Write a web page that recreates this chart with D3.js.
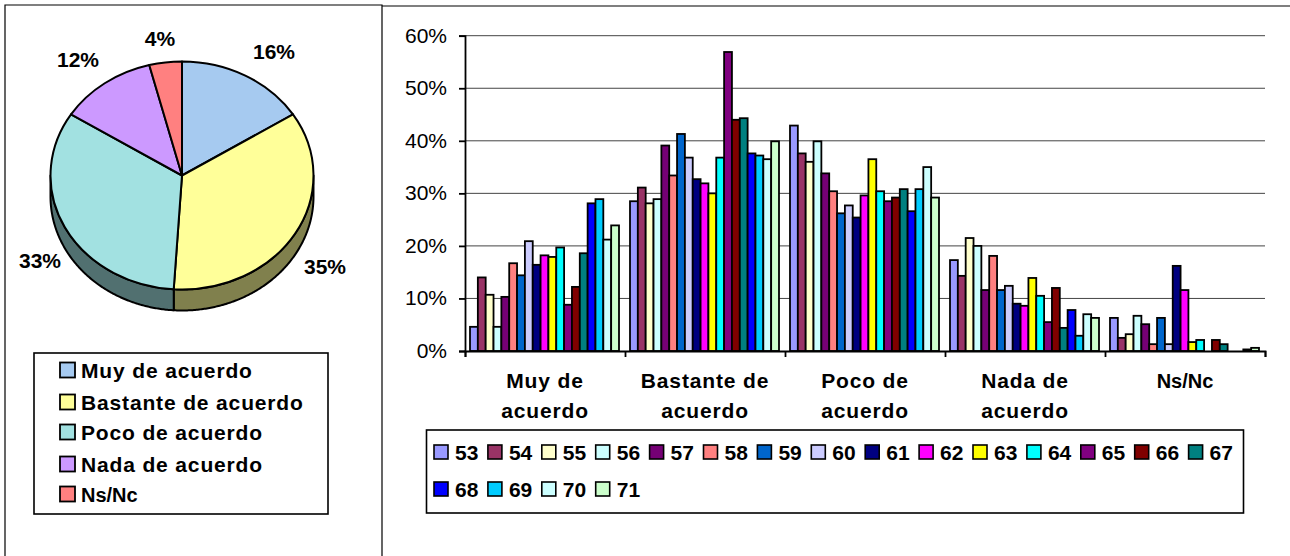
<!DOCTYPE html>
<html><head><meta charset="utf-8">
<script src="https://cdn.jsdelivr.net/npm/d3@7/dist/d3.min.js"></script>
<style>
html,body{margin:0;padding:0;background:#fff;overflow:hidden}
svg{display:block}
text{font-family:"Liberation Sans",Arial,sans-serif;fill:#000}
</style></head><body>
<svg id="c" width="1290" height="556"></svg>
<script>
// ---- data ----
const pieLabels = ["Muy de acuerdo","Bastante de acuerdo","Poco de acuerdo","Nada de acuerdo","Ns/Nc"];
const pieValues = [16,35,33,12,4];
const pieColors = ["#A6CAF0","#FFFF99","#A2E1E1","#CC99FF","#FF8080"];
const pieWallColors = ["#53657A","#80804D","#517070","#664D80","#804040"];
const categoryLines = [["Muy de","acuerdo"],["Bastante de","acuerdo"],["Poco de","acuerdo"],["Nada de","acuerdo"],["Ns/Nc"]];
const seriesNames = ["53","54","55","56","57","58","59","60","61","62","63","64","65","66","67","68","69","70","71"];
const seriesColors = ["#9999FF","#993366","#FFFFCC","#CCFFFF","#750075","#FF8080","#0066CC","#CCCCFF","#000080","#FF00FF","#FFFF00","#00FFFF","#800080","#800000","#008080","#0000FF","#00CCFF","#CCFFFF","#CCFFCC"];
const muyDeAcuerdo   = [4.6,14.0,10.7,4.6,10.3,16.7,14.4,20.9,16.4,18.2,17.9,19.7,8.8,12.2,18.6,28.1,28.9,21.2,23.9];
const bastante       = [28.5,31.1,28.1,28.9,39.1,33.4,41.3,36.8,32.7,31.9,30.0,36.8,56.9,44.0,44.3,37.6,37.2,36.5,39.9];
const poco           = [42.9,37.6,36.0,39.9,33.8,30.4,26.2,27.7,25.4,29.6,36.5,30.4,28.5,29.2,30.8,26.6,30.8,35.0,29.2];
const nada           = [17.3,14.3,21.5,20.0,11.6,18.1,11.6,12.4,9.0,8.6,13.9,10.5,5.5,12.0,4.4,7.8,2.9,7.0,6.3];
const nsNc           = [6.3,2.5,3.2,6.7,5.1,1.3,6.3,1.3,16.2,11.6,1.7,2.1,0,2.1,1.3,0,0,0.3,0.6];
const barValues = [muyDeAcuerdo,bastante,poco,nada,nsNc];
const yTicks = [0,10,20,30,40,50,60];

const svg = d3.select("#c");
const spaced = t => t==="Ns/Nc" ? 0 : 0.85;

// frames
svg.append("path").attr("d","M5,556V5H382V556").attr("fill","none").attr("stroke","#000").attr("stroke-width",1.2);
svg.append("line").attr("x1",382).attr("x2",1290).attr("y1",6).attr("y2",6).attr("stroke","#000").attr("stroke-width",1.2);

// ---- pie ----
const cx=182, cy=175.5, rx=131.5, ry=114, depth=21;
const pieArcs = d3.pie().sort(null)(pieValues);
const pt = (a,dy=0)=>[cx+rx*Math.sin(a), cy+ry*-Math.cos(a)+dy];
const line = d3.line();
const pieG = svg.append("g");
pieArcs.forEach((s,i)=>{
  const a0=Math.max(s.startAngle,Math.PI/2), a1=Math.min(s.endAngle,Math.PI*1.5);
  if(a1<=a0) return;
  const as=d3.range(a0,a1,0.01).concat([a1]);
  const pts=as.map(a=>pt(a)).concat(as.slice().reverse().map(a=>pt(a,depth)));
  pieG.append("path").attr("d",line(pts)+"Z").attr("fill",pieWallColors[i]).attr("stroke","#000").attr("stroke-width",2).attr("stroke-linejoin","round");
});
const unitArc = d3.arc().innerRadius(0).outerRadius(1);
pieG.selectAll("path.s").data(pieArcs).join("path").attr("class","s")
  .attr("transform",`translate(${cx},${cy}) scale(${rx},${ry})`)
  .attr("d",unitArc).attr("fill",(d,i)=>pieColors[i])
  .attr("stroke","#000").attr("stroke-width",2).attr("vector-effect","non-scaling-stroke").attr("stroke-linejoin","round");

const pieLabelPos = [[274,59],[325,274],[40,268],[78,67],[160,46]];
svg.append("g").selectAll("text").data(pieValues).join("text")
  .attr("x",(d,i)=>pieLabelPos[i][0]).attr("y",(d,i)=>pieLabelPos[i][1])
  .attr("text-anchor","middle").attr("font-size",21).attr("font-weight","bold").text(d=>d+"%");

// pie legend
svg.append("rect").attr("x",34).attr("y",353).attr("width",294).attr("height",161).attr("fill","#fff").attr("stroke","#000").attr("stroke-width",1.6);
const pieLegY = [370,402,432,464,494];
const pl = svg.append("g").selectAll("g").data(pieLabels).join("g").attr("transform",(d,i)=>`translate(60,${pieLegY[i]})`);
pl.append("rect").attr("x",0).attr("y",-7.5).attr("width",15).attr("height",15).attr("fill",(d,i)=>pieColors[i]).attr("stroke","#000").attr("stroke-width",1.8);
pl.append("text").attr("x",21).attr("y",7.5).attr("font-size",d=>d==="Ns/Nc"?20:21).attr("letter-spacing",spaced).attr("font-weight","bold").text(d=>d);

// ---- bars ----
const y = d3.scaleLinear().domain([0,60]).range([351,35.7]);
const xc = d3.scaleBand().domain(d3.range(categoryLines.length)).range([465,1265]);
const xs = d3.scaleBand().domain(seriesNames).range([5,154]);
const xt = d3.scaleLinear().domain([0,5]).range([465,1265]);

svg.append("g").selectAll("line").data(yTicks.slice(1)).join("line")
  .attr("x1",465).attr("x2",1265).attr("y1",d=>y(d)).attr("y2",d=>y(d)).attr("stroke","#444").attr("stroke-width",1);

const cg = svg.append("g").selectAll("g").data(barValues).join("g").attr("transform",(d,i)=>`translate(${xc(i)},0)`);
cg.selectAll("rect").data(d=>d.map((v,i)=>({v,i})).filter(o=>o.v>0)).join("rect")
  .attr("x",o=>xs(seriesNames[o.i])).attr("width",xs.bandwidth())
  .attr("y",o=>y(o.v)).attr("height",o=>y(0)-y(o.v))
  .attr("fill",o=>seriesColors[o.i]).attr("stroke","#000").attr("stroke-width",1.8);

const ya = svg.append("g").attr("transform","translate(465,0)")
  .call(d3.axisLeft(y).tickValues(yTicks).tickSize(6).tickFormat(d=>d+"%"));
ya.selectAll("line,path").attr("stroke","#000").attr("stroke-width",1.8);
ya.selectAll("text").attr("font-size",21).attr("font-family","Liberation Sans").attr("x",-18).attr("dy","0.3em");
const xa = svg.append("g").attr("transform","translate(0,351)")
  .call(d3.axisBottom(xt).tickValues(d3.range(6)).tickSize(6).tickFormat(""));
xa.selectAll("line,path").attr("stroke","#000").attr("stroke-width",1.8);

svg.append("g").selectAll("text").data(categoryLines).join("text")
  .attr("text-anchor","middle").attr("font-weight","bold")
  .attr("transform",(d,i)=>`translate(${xc(i)+xc.bandwidth()/2},0)`)
  .selectAll("tspan").data(d=>d).join("tspan").attr("x",0).attr("y",(d,i)=>388+i*30)
  .attr("font-size",d=>d==="Ns/Nc"?20:21).attr("letter-spacing",spaced).text(d=>d);

// bar legend
svg.append("rect").attr("x",426.5).attr("y",430).attr("width",817).attr("height",83).attr("fill","#fff").attr("stroke","#000").attr("stroke-width",1.6);
const lg = svg.append("g").selectAll("g").data(seriesNames).join("g")
  .attr("transform",(d,i)=>`translate(${434+(i%15)*53.9},${i<15?452:489})`);
lg.append("rect").attr("x",0).attr("y",-7).attr("width",14).attr("height",14).attr("fill",(d,i)=>seriesColors[i]).attr("stroke","#000").attr("stroke-width",1.6);
lg.append("text").attr("x",21).attr("y",7.5).attr("font-size",21).attr("font-weight","bold").text(d=>d);
</script>
</body></html>
